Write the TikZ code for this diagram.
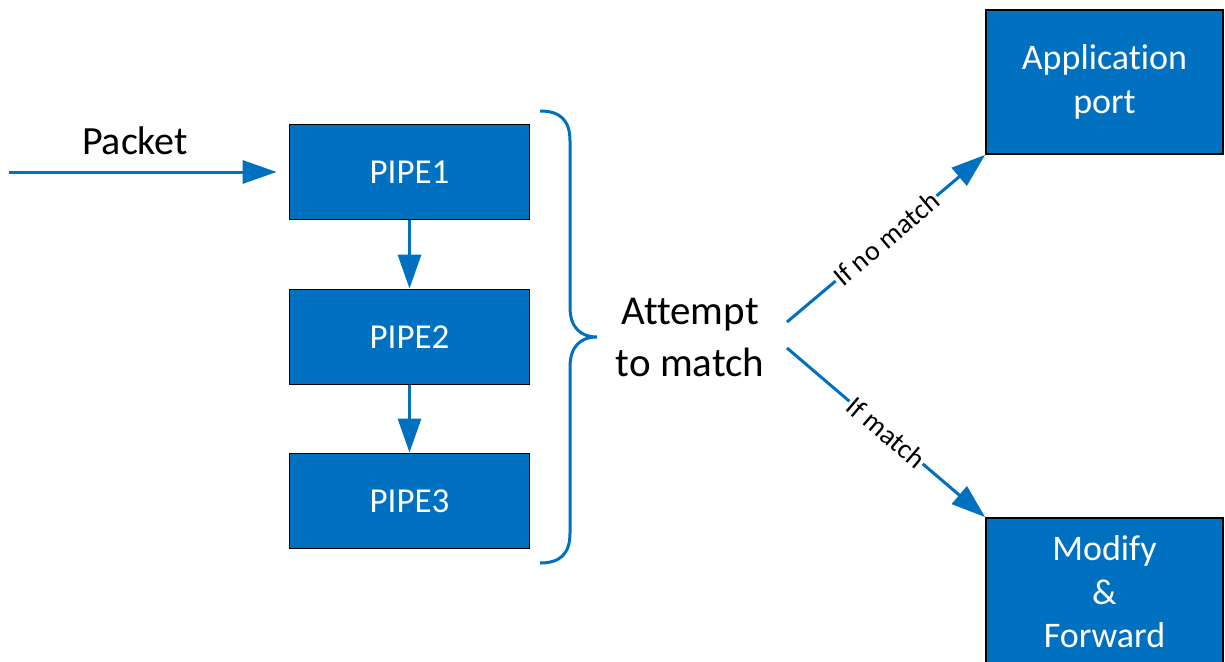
\documentclass[tikz,border=0pt]{standalone}
\usepackage{fontspec}
\setmainfont{Carlito}[Ligatures={NoCommon}]
\usetikzlibrary{arrows.meta}
\definecolor{boxblue}{HTML}{0070C0}
\begin{document}
\begin{tikzpicture}[x=1pt,y=-1pt,
  pipebox/.style={draw=black,line width=1.8pt,fill=boxblue,text=white,
    minimum width=240pt,minimum height=95pt,inner sep=0pt,
    font=\fontsize{35}{42}\selectfont},
  bigbox/.style={draw=black,line width=1.8pt,fill=boxblue,text=white,
    minimum width=237pt,minimum height=144pt,inner sep=0pt,align=center,
    font=\fontsize{36}{43.5}\selectfont},
  flow/.style={draw=boxblue,line width=3pt,
    -{Triangle[length=34pt,width=23pt]}},
  edgelabel/.style={sloped,fill=white,inner sep=1.5pt,text=black,
    font=\fontsize{28}{34}\selectfont}
]
\clip (0,0) rectangle (1225,661);
\fill[white] (0,0) rectangle (1225,661);

\node[pipebox] (p1) at (409.5,172) {PIPE1};
\node[pipebox] (p2) at (409.5,337) {PIPE2};
\node[pipebox] (p3) at (409.5,501) {PIPE3};

\node[bigbox] (app) at (1104.5,82) {Application\\port};
\node[bigbox,minimum height=148pt] (mod) at (1104.5,592) {Modify\\\&\\Forward};

\coordinate (in) at (9,172);
\node[font=\fontsize{40}{48}\selectfont] (pkt) at (135,141) {Packet};
\draw[flow,shorten >=12pt] (in) -- (p1.west);
\draw[flow] (p1.south) -- (p2.north);
\draw[flow] (p2.south) -- (p3.north);

\draw[boxblue,line width=3pt] (540,111) .. controls (560,111) and (570,120) .. (570,141)
  -- (570,307) .. controls (570,327) and (580,337) .. (597,337)
  .. controls (580,337) and (570,347) .. (570,367)
  -- (570,533) .. controls (570,554) and (560,563) .. (540,563);

\node[align=center,font=\fontsize{41}{52}\selectfont] (att) at (690,337) {Attempt\\to match};

\coordinate (s1) at (787,322);
\coordinate (s2) at (787,348);
\draw[flow] (s1) -- node[edgelabel] {If no match} (app.south west);
\draw[flow] (s2) -- node[edgelabel] {If match} (mod.north west);
\end{tikzpicture}
\end{document}
